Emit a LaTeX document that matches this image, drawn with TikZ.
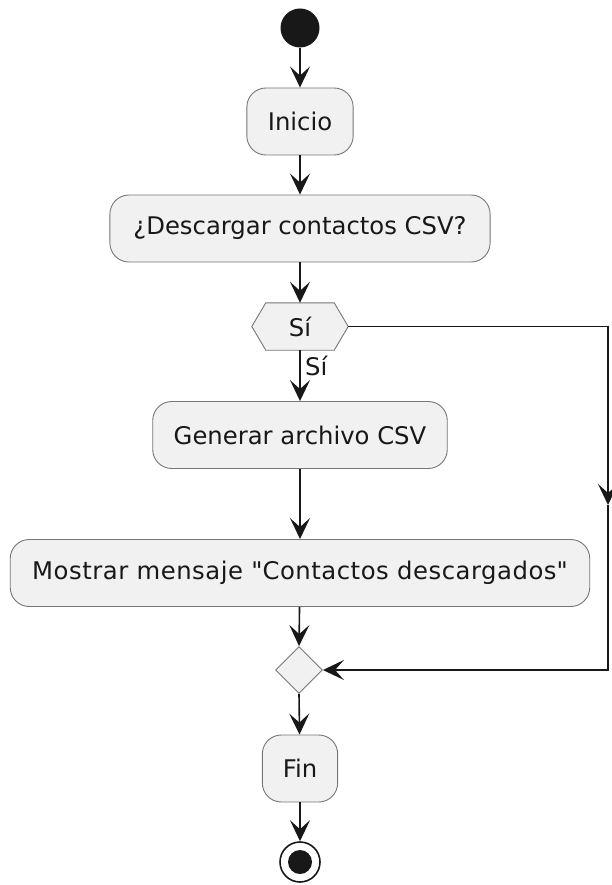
\documentclass[tikz,border=0pt]{standalone}
\usepackage{fontspec}
\setmainfont{DejaVu Sans}
\usetikzlibrary{arrows.meta,shapes.geometric,calc}
\definecolor{boxfill}{HTML}{F1F1F1}
\definecolor{boxline}{HTML}{777777}
\definecolor{ink}{HTML}{181818}
\begin{document}
\begin{tikzpicture}[x=1pt,y=-1pt,
  font=\fontsize{24.3}{28}\selectfont,
  action/.style={draw=boxline,fill=boxfill,line width=0.9pt,rounded corners=19pt,
    minimum height=67pt,inner xsep=21pt,text=ink},
  flow/.style={draw=ink,line width=1.6pt,-{Stealth[length=21pt,width=20pt,inset=9pt]}},
  plain/.style={draw=ink,line width=1.6pt}]
\useasboundingbox (0,0) rectangle (611,885);

% start and end markers
\node[circle,fill=ink,minimum size=39pt,inner sep=0pt] (start) at (300,28) {};
\node[action] (inicio) at (300,121.5) {Inicio};
\node[action,inner xsep=23.5pt] (pregunta) at (300,228.5) {¿Descargar contactos CSV?};

% decision hexagon
\node[minimum width=96pt,minimum height=47pt,inner sep=0pt] (dec) at (300,326.5) {};
\draw[draw=boxline,fill=boxfill,line width=0.9pt]
  (dec.west) -- ($(dec.north west)+(14,0)$) -- ($(dec.north east)+(-14,0)$)
  -- (dec.east) -- ($(dec.south east)+(-14,0)$) -- ($(dec.south west)+(14,0)$) -- cycle;
\node[text=ink] at (dec.center) {Sí};

\node[action] (generar) at (300,435) {Generar archivo CSV};
\node[action,inner xsep=22pt] (mostrar) at (300,573)
  {\addfontfeature{LetterSpace=2.2}Mostrar mensaje \textquotedbl{}Contactos descargados\textquotedbl{}};
\node[diamond,draw=boxline,fill=boxfill,line width=0.9pt,minimum size=47pt,inner sep=0pt] (merge) at (299,670) {};
\node[action,inner xsep=20.5pt] (fin) at (300,768.5) {Fin};
\node[circle,draw=ink,line width=1.6pt,minimum size=40pt,inner sep=0pt] (stop) at (300,862) {};
\fill[ink] (stop.center) circle (12pt);

% connectors
\draw[flow] (start) -- (inicio);
\draw[flow] (inicio) -- (pregunta);
\draw[flow] (pregunta) -- (dec.north);
\draw[flow] (dec.south) -- node[right,text=ink,pos=0.3,xshift=1pt] {Sí} (generar);
\draw[flow] (generar) -- (mostrar);
\draw[flow] (mostrar) -- (merge.north);
\draw[flow] (merge.south) -- (fin);
\draw[flow] (fin) -- (stop);

% branch that skips the download
\coordinate (side) at (608,505);
\draw[flow] (dec.east) -| (side);
\draw[flow] (side) |- (merge.east);
\end{tikzpicture}
\end{document}
